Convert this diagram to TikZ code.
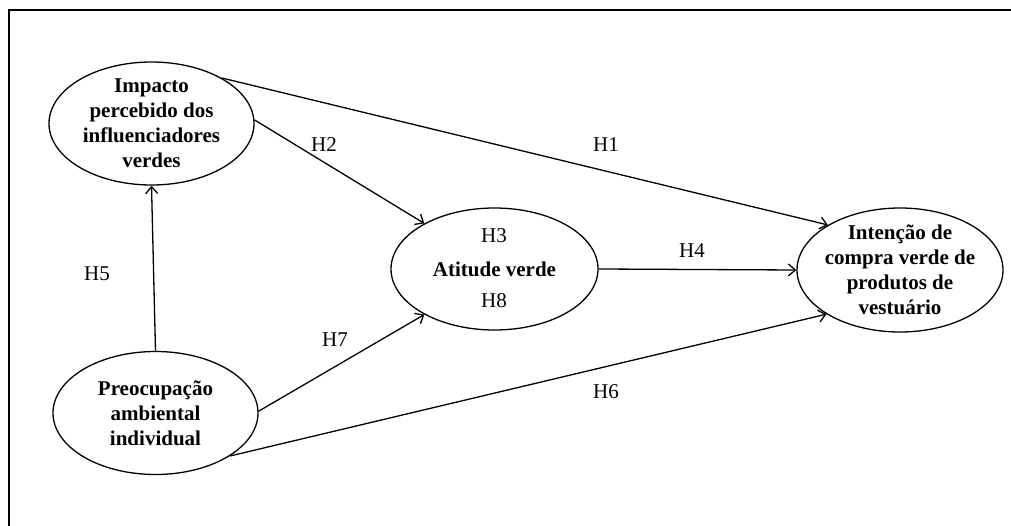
\documentclass[tikz,border=0pt]{standalone}
\usepackage{fontspec}
\setmainfont{Liberation Serif}
\usetikzlibrary{shapes.geometric,arrows.meta}
\begin{document}
\begin{tikzpicture}[x=1pt,y=-1pt,
  ell/.style={draw,ellipse,line width=1.3pt,minimum width=205pt,minimum height=123pt,inner sep=0pt},
  lbl/.style={align=center,font=\fontsize{21}{25}\selectfont\bfseries,inner sep=0pt},
  hyp/.style={font=\fontsize{21}{25}\selectfont,inner sep=0pt},
  conn/.style={line width=1.3pt,-{Straight Barb[length=7pt,width=12pt,line width=1.3pt]}}]
\useasboundingbox (0,0) rectangle (1011,526);
\draw[line width=2pt] (1011,10) -- (9,10) -- (9,526);

\node[ell] (imp) at (151.5,123.5) {};
\node[lbl] at (imp.center) {Impacto\\percebido dos\\influenciadores\\verdes};
\node[ell] (pre) at (155.5,413) {};
\node[lbl] at (pre.center) {Preocupação\\ambiental\\individual};
\node[ell,minimum width=207pt,minimum height=122pt] (at) at (494.5,269) {};
\node[lbl] (atl) at (at.center) {Atitude verde};
\node[ell,minimum width=206pt,minimum height=124pt] (int) at (900,270) {};
\node[lbl] at (int.center) {Intenção de\\compra verde de\\produtos de\\vestuário};

\draw[conn] (imp.33) -- (int.148);
\draw[conn] (imp.2) -- (at.147);
\draw[conn] (at.east) -- (int.west);
\draw[conn] (pre.north) -- (imp.south);
\draw[conn] (pre.1) -- (at.213);
\draw[conn] (pre.-30) -- (int.211);

\node[hyp] (h1) at (606,145) {H1};
\node[hyp] (h2) at (324,145) {H2};
\node[hyp] (h3) at (494,236) {H3};
\node[hyp] (h4) at (692,251) {H4};
\node[hyp] (h5) at (97,274) {H5};
\node[hyp] (h6) at (606,392) {H6};
\node[hyp] (h7) at (335,340) {H7};
\node[hyp] (h8) at (494,301) {H8};
\end{tikzpicture}
\end{document}
